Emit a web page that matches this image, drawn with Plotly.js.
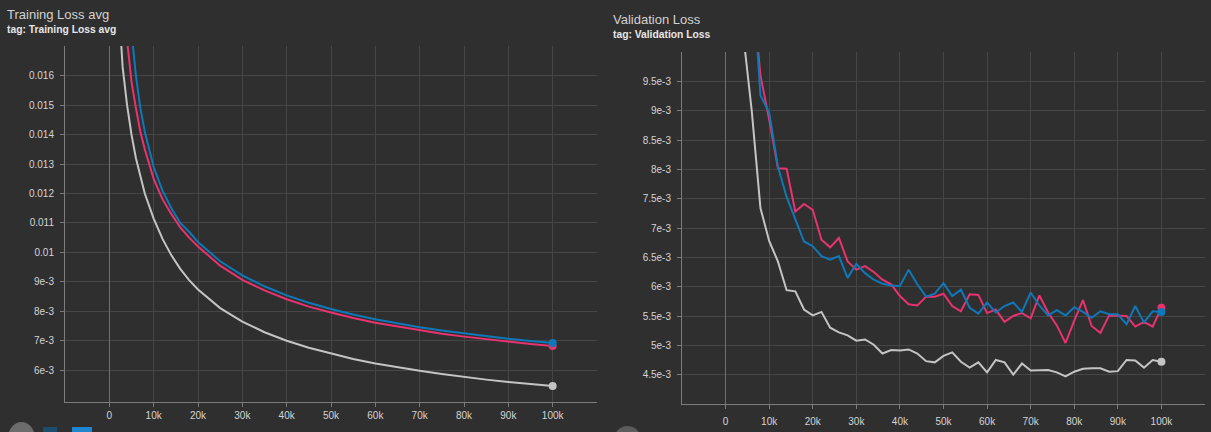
<!DOCTYPE html>
<html>
<head>
<meta charset="utf-8">
<script src="https://cdn.plot.ly/plotly-3.0.1.min.js"></script>
<style>
html,body{margin:0;padding:0;background:#2f2f2f;}
#chart{width:1211px;height:432px;}
</style>
</head>
<body>
<div id="chart"></div>
<script>
// ---------- Training Loss avg (left) ----------
const trainStepsGray = [2500,3000,4000,5000,6000,7000,8000,10000,12000,14000,16000,18000,20000,25000,30000,35000,40000,45000,50000,55000,60000,65000,70000,75000,80000,85000,90000,95000,100000];
const trainGray = [0.0175,0.0163,0.0150,0.0140,0.0132,0.0126,0.0120,0.01115,0.01046,0.0099,0.00944,0.00906,0.00874,0.00811,0.00765,0.00729,0.0070,0.00676,0.00656,0.00638,0.00623,0.0061,0.00598,0.00587,0.00577,0.00568,0.0056,0.00553,0.00546];

const trainStepsColor = [4000,5000,6000,7000,8000,10000,12000,14000,16000,18000,20000,25000,30000,35000,40000,45000,50000,55000,60000,65000,70000,75000,80000,85000,90000,95000,100000];
const trainBlue = [0.0195,0.0175,0.0160,0.0149,0.0141,0.0129,0.0121,0.0115,0.0110,0.0107,0.01035,0.0097,0.00922,0.00885,0.00854,0.00829,0.00808,0.00789,0.00773,0.00759,0.00746,0.00735,0.00725,0.00716,0.00707,0.00699,0.00692];
const trainPink = [0.0172,0.0158,0.0149,0.0141,0.0135,0.0125,0.0118,0.0113,0.01085,0.0105,0.0102,0.00955,0.00907,0.00871,0.00841,0.00816,0.00796,0.00777,0.00761,0.00748,0.00735,0.00724,0.00714,0.00705,0.00697,0.00689,0.00682];

// ---------- Validation Loss (right) ----------
const valSteps = [2000,4000,6000,8000,10000,12000,14000,16000,18000,20000,22000,24000,26000,28000,30000,32000,34000,36000,38000,40000,42000,44000,46000,48000,50000,52000,54000,56000,58000,60000,62000,64000,66000,68000,70000,72000,74000,76000,78000,80000,82000,84000,86000,88000,90000,92000,94000,96000,98000,100000];
const valGray = [0.0125,0.01033,0.0090,0.00734,0.00678,0.00643,0.00594,0.00592,0.00561,0.00551,0.00557,0.00530,0.00522,0.00517,0.00508,0.00510,0.00501,0.00486,0.00492,0.00491,0.00493,0.00486,0.00473,0.00471,0.00482,0.00488,0.00472,0.00462,0.00471,0.00454,0.00475,0.00471,0.00450,0.00469,0.00457,0.00457,0.00458,0.00454,0.00447,0.00455,0.00460,0.00461,0.00461,0.00455,0.00456,0.00475,0.00474,0.00462,0.00475,0.00472];
const valBlue = [0.0140,0.0125,0.0115,0.00926,0.00897,0.00805,0.00753,0.00714,0.00677,0.00669,0.00652,0.00646,0.00652,0.00615,0.00639,0.00623,0.00612,0.00605,0.00602,0.00601,0.00629,0.00604,0.00583,0.00588,0.00606,0.00584,0.00595,0.00564,0.00554,0.00573,0.00556,0.00567,0.00573,0.00557,0.00590,0.00568,0.00551,0.00560,0.00551,0.00565,0.00557,0.00547,0.00558,0.00553,0.00553,0.00536,0.00567,0.00539,0.00558,0.00557];
const valPink = [0.0140,0.0124,0.0112,0.00960,0.00885,0.00802,0.00801,0.00728,0.00741,0.00731,0.00680,0.00667,0.00683,0.00643,0.00629,0.00635,0.00625,0.00612,0.00604,0.00584,0.00570,0.00568,0.00583,0.00583,0.00588,0.00567,0.00558,0.00587,0.00586,0.00555,0.00561,0.00540,0.00550,0.00555,0.00546,0.00585,0.00556,0.00534,0.00504,0.00542,0.00577,0.00533,0.00521,0.00551,0.00551,0.00550,0.00532,0.00540,0.00532,0.00564];

// ---------- axis tick labels ----------
const xTickVals = [0,10000,20000,30000,40000,50000,60000,70000,80000,90000,100000];
const xTickText = ["0","10k","20k","30k","40k","50k","60k","70k","80k","90k","100k"];
const trainTickVals = [0.006,0.007,0.008,0.009,0.010,0.011,0.012,0.013,0.014,0.015,0.016];
const trainTickText = ["6e-3","7e-3","8e-3","9e-3","0.01","0.011","0.012","0.013","0.014","0.015","0.016"];
const valTickVals = [0.0045,0.005,0.0055,0.006,0.0065,0.007,0.0075,0.008,0.0085,0.009,0.0095];
const valTickText = ["4.5e-3","5e-3","5.5e-3","6e-3","6.5e-3","7e-3","7.5e-3","8e-3","8.5e-3","9e-3","9.5e-3"];

const GRAY = '#c4c4c4', BLUE = '#0f78b8', PINK = '#e8336e';
const W = 1211, H = 432;

function line(x, y, color, xa, ya) {
  return {x: x, y: y, type: 'scatter', mode: 'lines', xaxis: xa, yaxis: ya,
          line: {color: color, width: 2}, hoverinfo: 'skip', showlegend: false};
}
function endDot(x, y, color, xa, ya) {
  return {x: [x[x.length - 1]], y: [y[y.length - 1]], type: 'scatter', mode: 'markers',
          xaxis: xa, yaxis: ya, marker: {color: color, size: 8}, cliponaxis: false,
          hoverinfo: 'skip', showlegend: false};
}

const traces = [
  line(trainStepsGray, trainGray, GRAY, 'x', 'y'),
  line(trainStepsColor, trainPink, PINK, 'x', 'y'),
  line(trainStepsColor, trainBlue, BLUE, 'x', 'y'),
  endDot(trainStepsGray, trainGray, GRAY, 'x', 'y'),
  endDot(trainStepsColor, trainPink, PINK, 'x', 'y'),
  endDot(trainStepsColor, trainBlue, BLUE, 'x', 'y'),
  line(valSteps, valGray, GRAY, 'x2', 'y2'),
  line(valSteps, valPink, PINK, 'x2', 'y2'),
  line(valSteps, valBlue, BLUE, 'x2', 'y2'),
  endDot(valSteps, valGray, GRAY, 'x2', 'y2'),
  endDot(valSteps, valPink, PINK, 'x2', 'y2'),
  endDot(valSteps, valBlue, BLUE, 'x2', 'y2')
];

const tickFont = {family: 'Liberation Sans, Arial, sans-serif', size: 10, color: '#d4d4d4'};
function xAxis(domain, anchor, standoff) {
  return {domain: domain, anchor: anchor, range: [-10000, 110000],
          tickmode: 'array', tickvals: xTickVals, ticktext: xTickText,
          showgrid: true, gridcolor: '#464646', gridwidth: 1,
          zeroline: true, zerolinecolor: '#707070', zerolinewidth: 1,
          showline: true, linecolor: '#7c7c7c', linewidth: 1,
          ticks: 'outside', ticklen: 4, tickcolor: '#7c7c7c',
          ticklabelstandoff: standoff, tickfont: tickFont, fixedrange: true};
}
function yAxis(domain, anchor, range, vals, text) {
  return {domain: domain, anchor: anchor, range: range,
          tickmode: 'array', tickvals: vals, ticktext: text,
          showgrid: true, gridcolor: '#464646', gridwidth: 1, zeroline: false,
          showline: true, linecolor: '#7c7c7c', linewidth: 1,
          ticks: 'outside', ticklen: 4, tickcolor: '#7c7c7c',
          ticklabelstandoff: 4, tickfont: tickFont, fixedrange: true};
}

function ann(text, px, py, size, bold, color) {
  return {text: bold ? '<b>' + text + '</b>' : text, xref: 'paper', yref: 'paper',
          x: px / W, y: 1 - py / H, xanchor: 'left', yanchor: 'middle', showarrow: false,
          font: {family: 'Liberation Sans, Arial, sans-serif', size: size, color: color}};
}

const layout = {
  width: W, height: H,
  margin: {l: 0, r: 0, t: 0, b: 0},
  paper_bgcolor: '#2f2f2f', plot_bgcolor: '#2f2f2f',
  showlegend: false,
  xaxis: xAxis([65 / W, 597 / W], 'y', 0),
  yaxis: yAxis([(H - 402) / H, (H - 46) / H], 'x', [0.00492, 0.01701], trainTickVals, trainTickText),
  xaxis2: xAxis([682 / W, 1205 / W], 'y2', 4),
  yaxis2: yAxis([(H - 404) / H, (H - 52) / H], 'x2', [0.0040, 0.0100], valTickVals, valTickText),
  annotations: [
    ann('Training Loss avg', 5, 14, 13, false, '#d2d2d2'),
    ann('tag: Training Loss avg', 5, 30, 10.3, true, '#e6e6e6'),
    ann('Validation Loss', 611, 19, 13, false, '#d2d2d2'),
    ann('tag: Validation Loss', 611, 34, 10.3, true, '#e6e6e6')
  ],
  shapes: [
    {type: 'circle', xref: 'paper', yref: 'paper', x0: 8 / W, x1: 35 / W, y0: -22 / H, y1: 10 / H,
     fillcolor: '#6c6c6c', line: {width: 0}},
    {type: 'rect', xref: 'paper', yref: 'paper', x0: 43 / W, x1: 57 / W, y0: -2 / H, y1: 5 / H,
     fillcolor: '#1d4d6e', line: {width: 0}},
    {type: 'rect', xref: 'paper', yref: 'paper', x0: 72 / W, x1: 92 / W, y0: -2 / H, y1: 5 / H,
     fillcolor: '#1f86d0', line: {width: 0}},
    {type: 'circle', xref: 'paper', yref: 'paper', x0: 614 / W, x1: 641 / W, y0: -22 / H, y1: 6 / H,
     fillcolor: '#5c5c5c', line: {width: 0}}
  ]
};

Plotly.newPlot('chart', traces, layout, {displayModeBar: false, staticPlot: true});
</script>
</body>
</html>
